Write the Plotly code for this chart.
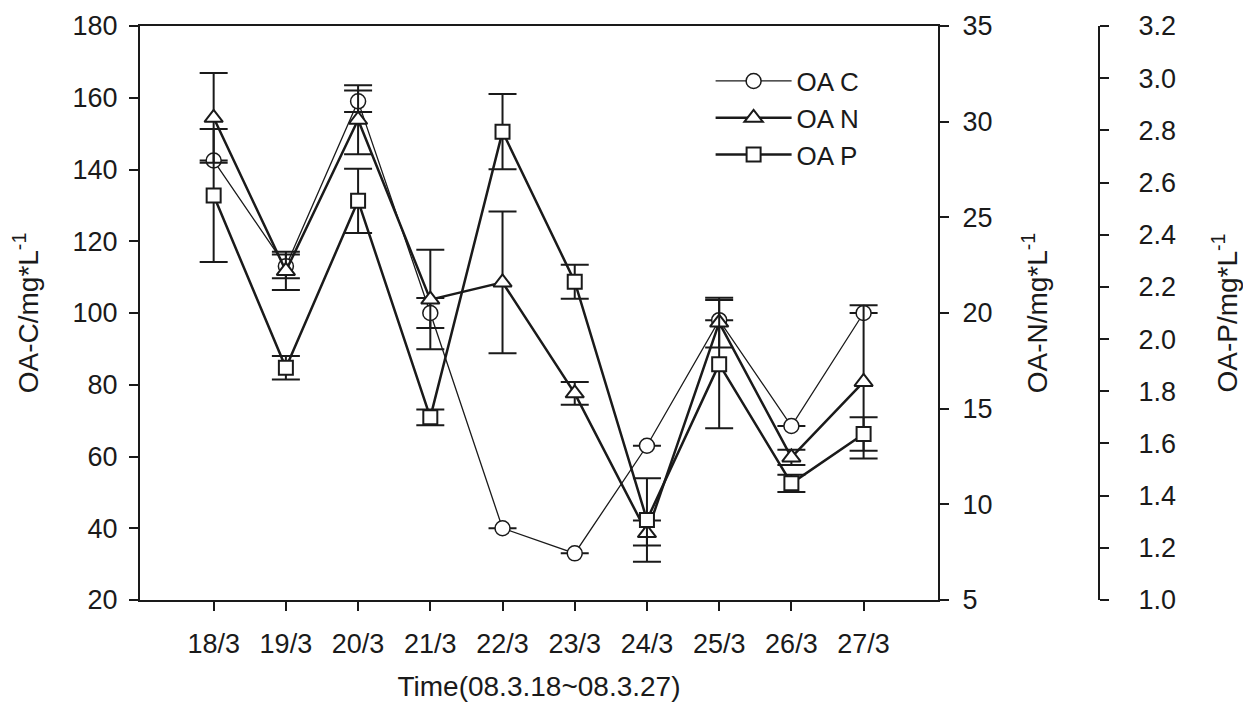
import plotly.graph_objects as go

dates = ['18/3', '19/3', '20/3', '21/3', '22/3', '23/3', '24/3', '25/3', '26/3', '27/3']
oa_c = [142.5, 113, 159, 100, 40, 33, 63, 98, 68.5, 100]
oa_c_err = [0, 3.3, 3, 4.2, 0, 0, 0, 0, 0, 0]
oa_n = [30.2, 22.2, 30.1, 20.7, 21.6, 15.8, 8.5, 19.5, 12.45, 16.4]
oa_n_err = [2.35, 1.0, 1.8, 2.6, 3.7, 0.6, 0.65, 1.3, 0.4, 4.0]
oa_p = [2.55, 1.89, 2.53, 1.70, 2.795, 2.22, 1.307, 1.904, 1.447, 1.636]
oa_p_err = [0.255, 0.045, 0.123, 0.03, 0.144, 0.065, 0.16, 0.246, 0.033, 0.064]

FONT = "Liberation Sans, Arial, sans-serif"
INK = "#1a1a1a"
TICKSZ = 27
TITLESZ = 28

fig = go.Figure()

fig.add_trace(go.Scatter(
    x=dates, y=oa_c, name="OA C", yaxis="y", mode="lines+markers",
    line=dict(color=INK, width=1.3),
    marker=dict(symbol="circle", size=15, color="white", line=dict(color=INK, width=1.5)),
    error_y=dict(type="data", array=oa_c_err, visible=True, color=INK, thickness=2, width=14),
))
fig.add_trace(go.Scatter(
    x=dates, y=oa_n, name="OA N", yaxis="y2", mode="lines+markers",
    line=dict(color=INK, width=2.5),
    marker=dict(symbol="triangle-up", size=16, color="white", line=dict(color=INK, width=2)),
    error_y=dict(type="data", array=oa_n_err, visible=True, color=INK, thickness=2, width=14),
))
fig.add_trace(go.Scatter(
    x=dates, y=oa_p, name="OA P", yaxis="y3", mode="lines+markers",
    line=dict(color=INK, width=2.5),
    marker=dict(symbol="square", size=14, color="white", line=dict(color=INK, width=2)),
    error_y=dict(type="data", array=oa_p_err, visible=True, color=INK, thickness=2, width=14),
))

axis_common = dict(
    showline=True, linecolor=INK, linewidth=2, ticks="outside", ticklen=9,
    tickwidth=1.5, tickcolor=INK, showgrid=False, zeroline=False,
    tickfont=dict(family=FONT, size=TICKSZ, color=INK),
)

fig.update_layout(
    width=1243, height=709,
    margin=dict(l=140, r=144, t=26, b=109, autoexpand=False),
    paper_bgcolor="white", plot_bgcolor="white",
    font=dict(family=FONT, color=INK),
    showlegend=True,
    legend=dict(
        x=0.595, y=0.945, xanchor="left", yanchor="top",
        bgcolor="rgba(0,0,0,0)", borderwidth=0,
        font=dict(family=FONT, size=26, color=INK),
        itemwidth=76, tracegroupgap=0,
    ),
    xaxis=dict(
        axis_common, type="category", domain=[0, 0.8321], range=[-1.02, 10.03],
        mirror=True, ticklabelstandoff=10,
        title=dict(text="Time(08.3.18~08.3.27)", font=dict(family=FONT, size=TITLESZ, color=INK), standoff=18),
    ),
    yaxis=dict(
        axis_common, range=[20, 180], dtick=20, side="left",
        ticklabelstandoff=6,
        title=dict(text="OA-C/mg*L<sup>-1</sup>", font=dict(family=FONT, size=TITLESZ, color=INK), standoff=26),
    ),
    yaxis2=dict(
        axis_common, range=[5, 35], dtick=5, side="right", overlaying="y", anchor="x",
        ticklabelstandoff=8,
        title=dict(text="OA-N/mg*L<sup>-1</sup>", font=dict(family=FONT, size=TITLESZ, color=INK), standoff=36),
    ),
    yaxis3=dict(
        axis_common, range=[1.0, 3.2], dtick=0.2, tickformat=".1f", side="right",
        overlaying="y", anchor="free", position=1.0,
        ticklabelstandoff=24,
        title=dict(text="OA-P/mg*L<sup>-1</sup>", font=dict(family=FONT, size=TITLESZ, color=INK), standoff=44),
    ),
)

fig.write_html("out.html")
